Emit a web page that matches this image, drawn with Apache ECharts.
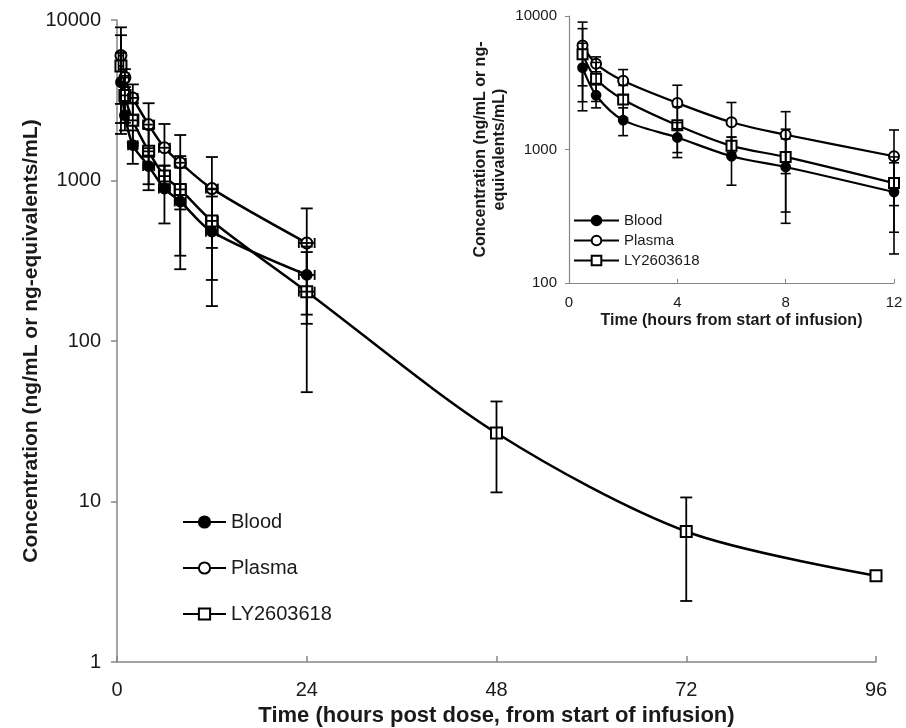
<!DOCTYPE html>
<html>
<head>
<meta charset="utf-8">
<script src="https://cdn.jsdelivr.net/npm/echarts@6/dist/echarts.min.js"></script>
<style>
  html, body { margin: 0; padding: 0; background: #fff; }
  #chart { width: 906px; height: 728px; }
</style>
</head>
<body>
<div id="chart"></div>
<script>
// sampling times (h from start of infusion)
var times = [0.5, 1, 2, 4, 6, 8, 12, 24];
var lyTimes = [0.5, 1, 2, 4, 6, 8, 12, 24, 48, 72, 96];
// spread of actual sampling times (main chart only)
var timeSD = [0.3, 0.5, 0.6, 0.7, 0.7, 0.7, 0.75, 1.0];

var blood = [4100, 2550, 1660, 1230, 890, 740, 480, 258];
var bloodSD = [2150, 500, 390, 360, 350, 460, 315, 130];
var plasma = [6000, 4380, 3270, 2230, 1600, 1290, 890, 408];
var plasmaSD = [3000, 560, 700, 800, 650, 630, 510, 262];
var ly = [5160, 3390, 2370, 1520, 1065, 880, 560, 203, 26.7, 6.5, 3.45];
var lySD = [2880, 1100, 650, 572, 170, 540, 320, 155, 15.3, 4.1, 0];

var mainYTicks = [1, 10, 100, 1000, 10000];
var insetYTicks = [100, 1000, 10000];

var txt = '#1a1a1a';
var axisGray = '#868686';
var font = 'Liberation Sans';

function pts(xs, ys, maxX) {
  var out = [];
  for (var i = 0; i < ys.length; i++) {
    if (xs[i] <= maxX) out.push([xs[i], ys[i]]);
  }
  return out;
}
function vErr(xs, ys, sd, maxX) {
  var out = [];
  for (var i = 0; i < ys.length; i++) {
    if (xs[i] <= maxX && sd[i] > 0) out.push([xs[i], ys[i] - sd[i], ys[i] + sd[i]]);
  }
  return out;
}
function hErr(xs, ys, tsd) {
  var out = [];
  for (var i = 0; i < tsd.length; i++) {
    out.push([xs[i] - tsd[i], xs[i] + tsd[i], ys[i]]);
  }
  return out;
}

function vBar(cap, lw) {
  return function (params, api) {
    var top = api.coord([api.value(0), api.value(2)]);
    var bot = api.coord([api.value(0), api.value(1)]);
    var st = { stroke: '#000', lineWidth: lw };
    return {
      type: 'group',
      children: [
        { type: 'line', shape: { x1: top[0], y1: top[1], x2: bot[0], y2: bot[1] }, style: st },
        { type: 'line', shape: { x1: top[0] - cap, y1: top[1], x2: top[0] + cap, y2: top[1] }, style: st },
        { type: 'line', shape: { x1: bot[0] - cap, y1: bot[1], x2: bot[0] + cap, y2: bot[1] }, style: st }
      ]
    };
  };
}
function hBar(cap, lw) {
  return function (params, api) {
    var l = api.coord([api.value(0), api.value(2)]);
    var r = api.coord([api.value(1), api.value(2)]);
    var st = { stroke: '#000', lineWidth: lw };
    return {
      type: 'group',
      children: [
        { type: 'line', shape: { x1: l[0], y1: l[1], x2: r[0], y2: r[1] }, style: st },
        { type: 'line', shape: { x1: l[0], y1: l[1] - cap, x2: l[0], y2: l[1] + cap }, style: st },
        { type: 'line', shape: { x1: r[0], y1: r[1] - cap, x2: r[0], y2: r[1] + cap }, style: st }
      ]
    };
  };
}

function lineSeries(name, data, symbol, size, xi, lw) {
  return {
    name: name,
    type: 'line',
    xAxisIndex: xi,
    yAxisIndex: xi,
    data: data,
    smooth: 0.3,
    symbol: symbol,
    symbolSize: size,
    showAllSymbol: true,
    lineStyle: { color: '#000', width: lw },
    itemStyle: { color: '#000', borderColor: '#000', borderWidth: 1.8 },
    emphasis: { disabled: true },
    z: 3
  };
}
function errSeries(data, render, xi) {
  return {
    type: 'custom',
    xAxisIndex: xi,
    yAxisIndex: xi,
    data: data,
    renderItem: render,
    silent: true,
    z: 4
  };
}

var chart = echarts.init(document.getElementById('chart'));
chart.setOption({
  backgroundColor: '#fff',
  animation: false,
  textStyle: { fontFamily: font, color: txt },
  grid: [
    { left: 117, right: 30, top: 20, bottom: 66, outerBoundsMode: 'none' },
    { left: 569, right: 12, top: 16, bottom: 445, outerBoundsMode: 'none' }
  ],
  legend: [
    {
      data: ['Blood', 'Plasma', 'LY2603618'],
      orient: 'vertical',
      left: 177,
      top: 507,
      itemWidth: 43,
      itemHeight: 14,
      itemGap: 26,
      textStyle: { fontSize: 20, color: txt, fontFamily: font }
    },
    {
      data: ['Blood ', 'Plasma ', 'LY2603618 '],
      orient: 'vertical',
      left: 568,
      top: 208,
      itemWidth: 45,
      itemHeight: 12,
      itemGap: 5,
      textStyle: { fontSize: 15, color: txt, fontFamily: font }
    }
  ],
  xAxis: [
    {
      gridIndex: 0,
      type: 'value',
      min: 0,
      max: 96,
      interval: 24,
      name: 'Time (hours post dose, from start of infusion)',
      nameLocation: 'middle',
      nameGap: 43,
      nameTextStyle: { fontSize: 22, fontWeight: 'bold', color: txt },
      axisLine: { lineStyle: { color: axisGray, width: 1.5 } },
      axisTick: { inside: true, length: 6, lineStyle: { color: axisGray, width: 1.5 } },
      axisLabel: { fontSize: 20, color: txt, margin: 18 },
      splitLine: { show: false }
    },
    {
      gridIndex: 1,
      type: 'value',
      min: 0,
      max: 12,
      interval: 4,
      name: 'Time (hours from start of infusion)',
      nameLocation: 'middle',
      nameGap: 30,
      nameTextStyle: { fontSize: 16, fontWeight: 'bold', color: txt },
      axisLine: { lineStyle: { color: axisGray, width: 1.2 } },
      axisTick: { inside: true, length: 4, lineStyle: { color: axisGray } },
      axisLabel: { fontSize: 15, color: txt, margin: 12 },
      splitLine: { show: false }
    }
  ],
  yAxis: [
    {
      gridIndex: 0,
      type: 'log',
      logBase: 10,
      min: mainYTicks[0],
      max: mainYTicks[mainYTicks.length - 1],
      name: 'Concentration (ng/mL or ng-equivalents/mL)',
      nameLocation: 'middle',
      nameGap: 75,
      nameMoveOverlap: false,
      nameTextStyle: { fontSize: 21, fontWeight: 'bold', color: txt },
      axisLine: { show: true, lineStyle: { color: axisGray, width: 1.5 } },
      axisTick: { show: true, length: 6, lineStyle: { color: axisGray, width: 1.5 } },
      axisLabel: { fontSize: 20, color: txt, margin: 16, formatter: function (v) { return String(Math.round(v)); } },
      minorTick: { show: false },
      splitLine: { show: false }
    },
    {
      gridIndex: 1,
      type: 'log',
      logBase: 10,
      min: insetYTicks[0],
      max: insetYTicks[insetYTicks.length - 1],
      name: 'Concentration (ng/mL or ng-\nequivalents/mL)',
      nameLocation: 'middle',
      nameGap: 60,
      nameTextStyle: { fontSize: 16, fontWeight: 'bold', color: txt, lineHeight: 19 },
      axisLine: { show: true, lineStyle: { color: axisGray, width: 1.2 } },
      axisTick: { show: true, length: 4, lineStyle: { color: axisGray } },
      axisLabel: { fontSize: 15, color: txt, margin: 12, formatter: function (v) { return String(Math.round(v)); } },
      splitLine: { show: false }
    }
  ],
  series: [
    // main chart
    lineSeries('Blood', pts(times, blood, 96), 'circle', 10, 0, 2.5),
    lineSeries('Plasma', pts(times, plasma, 96), 'emptyCircle', 11, 0, 2.5),
    lineSeries('LY2603618', pts(lyTimes, ly, 96), 'emptyRect', 11, 0, 2.5),
    errSeries(vErr(times, blood, bloodSD, 96), vBar(6, 1.8), 0),
    errSeries(vErr(times, plasma, plasmaSD, 96), vBar(6, 1.8), 0),
    errSeries(vErr(lyTimes, ly, lySD, 96), vBar(6, 1.8), 0),
    errSeries(hErr(times, blood, timeSD), hBar(5, 1.8), 0),
    errSeries(hErr(times, plasma, timeSD), hBar(5, 1.8), 0),
    errSeries(hErr(lyTimes, ly, timeSD), hBar(5, 1.8), 0),
    // inset
    lineSeries('Blood ', pts(times, blood, 12), 'circle', 9, 1, 2.2),
    lineSeries('Plasma ', pts(times, plasma, 12), 'emptyCircle', 10, 1, 2.2),
    lineSeries('LY2603618 ', pts(lyTimes, ly, 12), 'emptyRect', 10, 1, 2.2),
    errSeries(vErr(times, blood, bloodSD, 12), vBar(5, 1.6), 1),
    errSeries(vErr(times, plasma, plasmaSD, 12), vBar(5, 1.6), 1),
    errSeries(vErr(lyTimes, ly, lySD, 12), vBar(5, 1.6), 1)
  ]
});
</script>
</body>
</html>
